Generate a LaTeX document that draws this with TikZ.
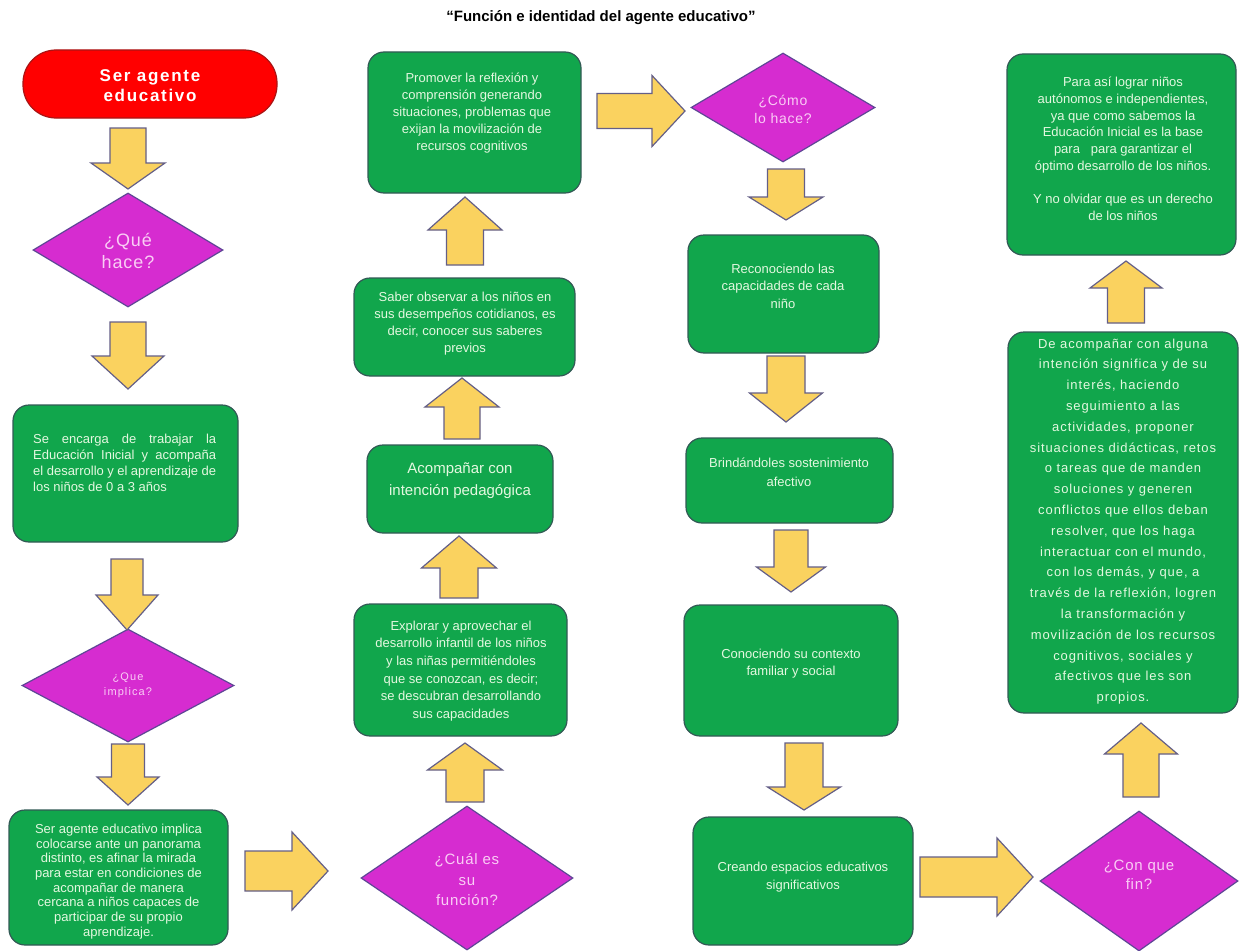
\documentclass[tikz,border=0pt]{standalone}
\usepackage{fontspec}
\setmainfont{Liberation Sans}
\usetikzlibrary{shapes.geometric}
\definecolor{gfill}{RGB}{17,166,76}
\definecolor{gline}{RGB}{50,90,85}
\definecolor{mfill}{RGB}{214,44,208}
\definecolor{mline}{RGB}{95,70,150}
\definecolor{yfill}{RGB}{250,210,95}
\definecolor{yline}{RGB}{100,95,135}
\definecolor{rfill}{RGB}{255,0,0}
\definecolor{rline}{RGB}{170,20,20}
\definecolor{gtext}{RGB}{228,248,224}
\definecolor{ptext}{RGB}{250,205,245}
\newcommand{\varrow}[6]{\draw[blk] ({#1-#2},#4) -- ({#1+#2},#4) -- ({#1+#2},#5) -- ({#1+#3},#5) -- (#1,#6) -- ({#1-#3},#5) -- ({#1-#2},#5) -- cycle;}
\newcommand{\harrow}[6]{\draw[blk] (#4,{#1-#2}) -- (#5,{#1-#2}) -- (#5,{#1-#3}) -- (#6,#1) -- (#5,{#1+#3}) -- (#5,{#1+#2}) -- (#4,{#1+#2}) -- cycle;}
\tikzset{
  gbox/.style={draw=gline, fill=gfill, rounded corners=16pt, line width=1.2pt, inner sep=0pt},
  rbox/.style={draw=rline, fill=rfill, rounded corners=33pt, line width=1.2pt, inner sep=0pt},
  dia/.style={diamond, draw=mline, fill=mfill, line width=1.2pt, inner sep=0pt},
  blk/.style={draw=yline, fill=yfill, line width=1.2pt, line join=miter},
  gtxt/.style={text=gtext, align=center, inner sep=0pt},
  ptxt/.style={text=ptext, align=center, inner sep=0pt},
}
\begin{document}
\begin{tikzpicture}[x=1pt,y=-1pt]
\fill[white] (0,0) rectangle (1239,950);
\useasboundingbox (0,0) rectangle (1239,950);

% title
\node[font=\fontsize{15}{18}\selectfont\bfseries, inner sep=0pt] (title) at (601,18) {“Función e identidad del agente educativo”};

% ---------- column 1 ----------
\node[rbox, minimum width=254pt, minimum height=68pt] (ser) at (150,84) {};
\node[text=white, inner sep=0pt, align=center, font=\fontsize{17}{20}\selectfont\bfseries\addfontfeature{LetterSpace=10}] (tser) at (150,86) {Ser agente\\educativo};

\node[dia, minimum width=190pt, minimum height=114pt] (que) at (128,250) {};
\node[ptxt, font=\fontsize{18}{22}\selectfont\addfontfeature{LetterSpace=5}] (tque) at (128,251) {¿Qué\\hace?};

\node[gbox, minimum width=225pt, minimum height=137pt] (se) at (125.5,473.5) {};
\node[gtxt, align=left, anchor=west, font=\fontsize{13}{16}\selectfont] (tse) at (33,463) {\makebox[183pt][s]{Se encarga de trabajar la}\\\makebox[183pt][s]{Educación Inicial y acompaña}\\\makebox[183pt][s]{el desarrollo y el aprendizaje de}\\los niños de 0 a 3 años};

\node[dia, minimum width=212pt, minimum height=113pt] (impl) at (128,685.5) {};
\node[ptxt, font=\fontsize{11}{15}\selectfont\addfontfeature{LetterSpace=10}] (timpl) at (128,685.5) {¿Que\\implica?};

\node[gbox, minimum width=219pt, minimum height=135pt] (serag) at (118.5,877.5) {};
\node[gtxt, font=\fontsize{13}{14.7}\selectfont] (tserag) at (118.5,881.5) {Ser agente educativo implica\\colocarse ante un panorama\\distinto, es afinar la mirada\\para estar en condiciones de\\acompañar de manera\\cercana a niños capaces de\\participar de su propio\\aprendizaje.};

\varrow{128}{18}{37}{128}{163}{189}
\varrow{128}{18}{36}{322}{356}{389}
\varrow{127}{16}{31}{559}{595}{630}
\varrow{128}{16.5}{31}{744}{777}{805}
\harrow{871}{20}{39}{245}{292}{328}

% ---------- column 2 ----------
\node[dia, minimum width=212pt, minimum height=144pt] (cual) at (467,878) {};
\node[ptxt, font=\fontsize{15}{20.5}\selectfont\addfontfeature{LetterSpace=5}] (tcual) at (467,880) {¿Cuál es\\su\\función?};

\node[gbox, minimum width=213pt, minimum height=132pt] (expl) at (460.5,670) {};
\node[gtxt, font=\fontsize{13}{17.6}\selectfont] (texpl) at (461,671) {Explorar y aprovechar el\\desarrollo infantil de los niños\\y las niñas permitiéndoles\\que se conozcan, es decir;\\se descubran desarrollando\\sus capacidades};

\node[gbox, minimum width=186pt, minimum height=88pt] (acomp) at (460,489) {};
\node[gtxt, font=\fontsize{15}{22}\selectfont] (tacomp) at (460,480.5) {Acompañar con\\intención pedagógica};

\node[gbox, minimum width=221pt, minimum height=98pt] (saber) at (464.5,327) {};
\node[gtxt, font=\fontsize{13}{17}\selectfont] (tsaber) at (465,324) {Saber observar a los niños en\\sus desempeños cotidianos, es\\decir, conocer sus saberes\\previos};

\node[gbox, minimum width=213pt, minimum height=141pt] (prom) at (474.5,122.5) {};
\node[gtxt, font=\fontsize{13}{17}\selectfont] (tprom) at (472,113) {Promover la reflexión y\\comprensión generando\\situaciones, problemas que\\exijan la movilización de\\recursos cognitivos};

\varrow{465}{19}{37.5}{802}{770}{743}
\varrow{459}{19}{37.5}{598}{568}{536}
\varrow{462}{18}{37}{439}{407}{378}
\varrow{465}{18.5}{37}{265}{230}{197}
\harrow{111}{17.5}{35.5}{597}{652}{685}

% ---------- column 3 ----------
\node[dia, minimum width=184pt, minimum height=109pt] (como) at (783,107.5) {};
\node[ptxt, font=\fontsize{14}{18}\selectfont\addfontfeature{LetterSpace=5}] (tcomo) at (783,109) {¿Cómo\\lo hace?};

\node[gbox, minimum width=191pt, minimum height=118pt] (recon) at (783.5,294) {};
\node[gtxt, font=\fontsize{13}{17.5}\selectfont] (trecon) at (783,286) {Reconociendo las\\capacidades de cada\\niño};

\node[gbox, minimum width=207pt, minimum height=85pt] (brind) at (789.5,480.5) {};
\node[gtxt, font=\fontsize{13}{19}\selectfont] (tbrind) at (789,472.5) {Brindándoles sostenimiento\\afectivo};

\node[gbox, minimum width=214pt, minimum height=131pt] (conoc) at (791,670.5) {};
\node[gtxt, font=\fontsize{13}{17.5}\selectfont] (tconoc) at (791,663.5) {Conociendo su contexto\\familiar y social};

\node[gbox, minimum width=220pt, minimum height=128pt] (crea) at (803,881) {};
\node[gtxt, font=\fontsize{13}{18}\selectfont] (tcrea) at (803,877) {Creando espacios educativos\\significativos};

\varrow{786}{18.5}{37}{169}{197}{220}
\varrow{786}{19}{36.5}{356}{393}{422}
\varrow{791}{17}{34.5}{530}{567}{592}
\varrow{804}{19}{36.5}{743}{787}{810}
\harrow{877}{20}{39}{920}{997}{1033}

% ---------- column 4 ----------
\node[dia, minimum width=198pt, minimum height=140pt] (fin) at (1139,881) {};
\node[ptxt, font=\fontsize{15}{19}\selectfont\addfontfeature{LetterSpace=5}] (tfin) at (1139,874.5) {¿Con que\\fin?};

\node[gbox, minimum width=230pt, minimum height=381pt] (deac) at (1123,522.5) {};
\node[gtxt, font=\fontsize{13}{20.8}\selectfont\addfontfeature{LetterSpace=7}] (tdeac) at (1123,521.5) {De acompañar con alguna\\intención significa y de su\\interés, haciendo\\seguimiento a las\\actividades, proponer\\situaciones didácticas, retos\\o tareas que de manden\\soluciones y generen\\conflictos que ellos deban\\resolver, que los haga\\interactuar con el mundo,\\con los demás, y que, a\\través de la reflexión, logren\\la transformación y\\movilización de los recursos\\cognitivos, sociales y\\afectivos que les son\\propios.};

\node[gbox, minimum width=229pt, minimum height=201pt] (para) at (1121.5,154.5) {};
\node[gtxt, font=\fontsize{13}{16.75}\selectfont] (tpara) at (1123,149) {Para así lograr niños\\autónomos e independientes,\\ya que como sabemos la\\Educación Inicial es la base\\para \ \ para garantizar el\\óptimo desarrollo de los niños.\\[16.75pt]Y no olvidar que es un derecho\\de los niños};

\varrow{1141}{18}{36.5}{797}{754}{723}
\varrow{1126}{18.5}{36}{323}{288}{261}
\end{tikzpicture}
\end{document}
